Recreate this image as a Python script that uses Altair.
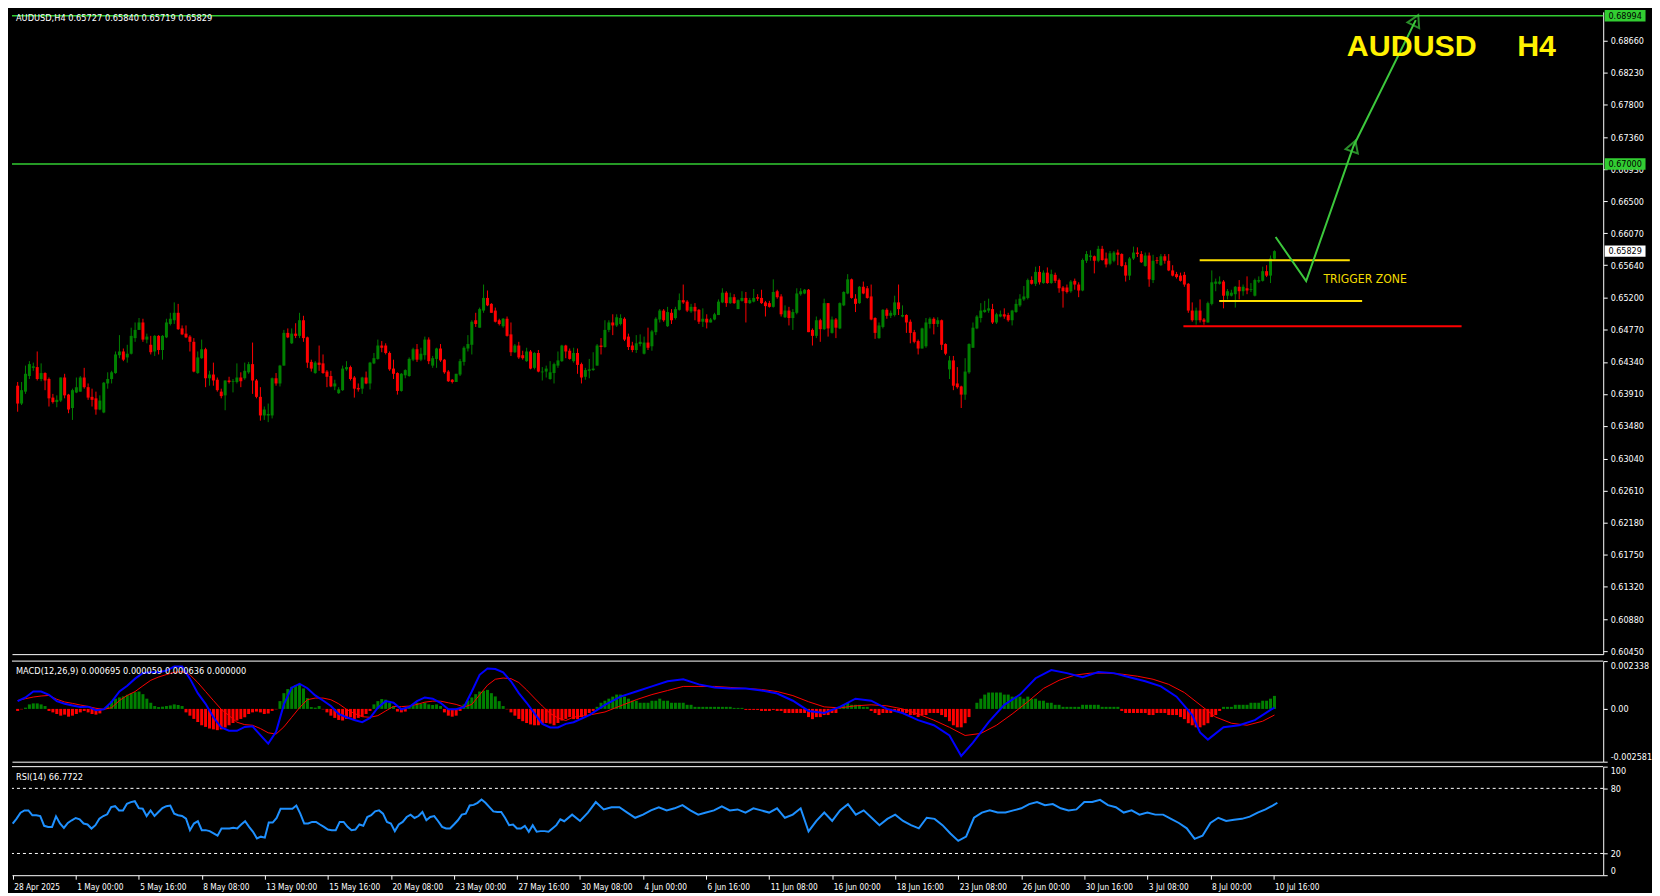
import altair as alt
import pandas as pd

# ---------------- candle data (H4 bars, 28 Apr 08:00 -> 10 Jul 20:00) ----------------
open_ = [
0.6402,0.6378,0.6394,0.6415,0.6426,0.6427,0.6411,0.6419,0.6411,0.6386,
0.6380,0.6382,0.6413,0.6390,0.6372,0.6393,0.6394,0.6413,0.6400,0.6387,
0.6385,0.6370,0.6366,0.6405,0.6411,0.6419,0.6443,0.6448,0.6440,0.6445,
0.6466,0.6477,0.6487,0.6464,0.6457,0.6448,0.6469,0.6450,0.6467,0.6485,
0.6490,0.6500,0.6479,0.6472,0.6468,0.6461,0.6419,0.6439,0.6451,0.6412,
0.6417,0.6410,0.6394,0.6389,0.6409,0.6407,0.6407,0.6413,0.6412,0.6420,
0.6431,0.6409,0.6387,0.6362,0.6362,0.6362,0.6412,0.6405,0.6429,0.6473,
0.6459,0.6472,0.6469,0.6490,0.6467,0.6434,0.6419,0.6433,0.6432,0.6421,
0.6415,0.6401,0.6392,0.6396,0.6424,0.6427,0.6413,0.6399,0.6398,0.6413,
0.6405,0.6432,0.6438,0.6456,0.6456,0.6446,0.6425,0.6419,0.6395,0.6416,
0.6415,0.6437,0.6451,0.6437,0.6443,0.6464,0.6429,0.6438,0.6452,0.6437,
0.6421,0.6410,0.6407,0.6417,0.6434,0.6452,0.6457,0.6490,0.6480,0.6503,
0.6520,0.6512,0.6503,0.6490,0.6482,0.6492,0.6471,0.6447,0.6456,0.6443,
0.6435,0.6448,0.6426,0.6446,0.6420,0.6421,0.6411,0.6419,0.6429,0.6435,
0.6456,0.6449,0.6435,0.6446,0.6431,0.6414,0.6422,0.6423,0.6429,0.6456,
0.6454,0.6477,0.6487,0.6483,0.6485,0.6492,0.6468,0.6456,0.6450,0.6458,
0.6445,0.6460,0.6455,0.6474,0.6491,0.6503,0.6482,0.6500,0.6493,0.6504,
0.6517,0.6515,0.6502,0.6508,0.6504,0.6488,0.6492,0.6487,0.6491,0.6497,
0.6514,0.6527,0.6513,0.6521,0.6505,0.6516,0.6520,0.6513,0.6515,0.6521,
0.6520,0.6514,0.6513,0.6508,0.6529,0.6522,0.6494,0.6503,0.6493,0.6500,
0.6525,0.6526,0.6531,0.6477,0.6469,0.6490,0.6478,0.6513,0.6473,0.6491,
0.6479,0.6510,0.6526,0.6545,0.6519,0.6513,0.6535,0.6533,0.6522,0.6493,
0.6466,0.6481,0.6504,0.6496,0.6497,0.6514,0.6495,0.6497,0.6488,0.6474,
0.6462,0.6452,0.6455,0.6485,0.6492,0.6485,0.6490,0.6458,0.6424,0.6436,
0.6405,0.6401,0.6390,0.6420,0.6453,0.6479,0.6493,0.6501,0.6503,0.6505,
0.6487,0.6495,0.6498,0.6497,0.6490,0.6501,0.6510,0.6518,0.6520,0.6544,
0.6539,0.6555,0.6540,0.6554,0.6540,0.6551,0.6544,0.6534,0.6534,0.6529,
0.6543,0.6538,0.6530,0.6570,0.6575,0.6576,0.6570,0.6586,0.6573,0.6566,
0.6570,0.6581,0.6579,0.6564,0.6550,0.6573,0.6581,0.6579,0.6563,0.6577,
0.6544,0.6571,0.6564,0.6576,0.6570,0.6557,0.6552,0.6550,0.6551,0.6539,
0.6503,0.6490,0.6503,0.6491,0.6487,0.6512,0.6539,0.6539,0.6542,0.6523,
0.6523,0.6525,0.6535,0.6529,0.6533,0.6531,0.6523,0.6542,0.6543,0.6556,
0.6550,0.65727]
high = [
0.6407,0.6407,0.6429,0.6435,0.6433,0.6448,0.6432,0.6420,0.6413,0.6391,
0.6389,0.6413,0.6418,0.6391,0.6398,0.6413,0.6415,0.6426,0.6405,0.6398,
0.6394,0.6389,0.6407,0.6420,0.6422,0.6448,0.6470,0.6452,0.6457,0.6480,
0.6487,0.6493,0.6492,0.6472,0.6469,0.6470,0.6470,0.6470,0.6492,0.6500,
0.6514,0.6512,0.6483,0.6483,0.6470,0.6466,0.6448,0.6464,0.6453,0.6422,
0.6433,0.6413,0.6398,0.6409,0.6414,0.6411,0.6432,0.6420,0.6433,0.6434,
0.6460,0.6411,0.6400,0.6374,0.6378,0.6413,0.6419,0.6430,0.6477,0.6479,
0.6479,0.6486,0.6500,0.6496,0.6468,0.6437,0.6435,0.6456,0.6444,0.6423,
0.6422,0.6410,0.6400,0.6429,0.6435,0.6429,0.6415,0.6405,0.6414,0.6421,
0.6434,0.6446,0.6464,0.6462,0.6459,0.6448,0.6437,0.6420,0.6419,0.6424,
0.6440,0.6453,0.6458,0.6453,0.6468,0.6467,0.6442,0.6453,0.6458,0.6438,
0.6423,0.6411,0.6418,0.6438,0.6455,0.6470,0.6490,0.6500,0.6507,0.6538,
0.6530,0.6513,0.6507,0.6492,0.6493,0.6495,0.6487,0.6458,0.6461,0.6449,
0.6453,0.6450,0.6447,0.6450,0.6427,0.6429,0.6435,0.6433,0.6448,0.6457,
0.6457,0.6452,0.6453,0.6452,0.6433,0.6426,0.6438,0.6447,0.6458,0.6466,
0.6490,0.6490,0.6498,0.6498,0.6498,0.6494,0.6472,0.6461,0.6470,0.6471,
0.6468,0.6480,0.6477,0.6494,0.6505,0.6505,0.6508,0.6505,0.6508,0.6526,
0.6538,0.6517,0.6512,0.6513,0.6505,0.6506,0.6498,0.6493,0.6500,0.6518,
0.6533,0.6529,0.6527,0.6525,0.6518,0.6529,0.6528,0.6520,0.6532,0.6525,
0.6531,0.6516,0.6516,0.6545,0.6531,0.6525,0.6510,0.6508,0.6505,0.6533,
0.6533,0.6532,0.6532,0.6479,0.6495,0.6492,0.6519,0.6513,0.6495,0.6493,
0.6514,0.6529,0.6552,0.6546,0.6525,0.6536,0.6542,0.6536,0.6538,0.6494,
0.6487,0.6505,0.6506,0.6503,0.6523,0.6538,0.6510,0.6498,0.6491,0.6477,
0.6464,0.6480,0.6493,0.6494,0.6494,0.6494,0.6491,0.6459,0.6442,0.6442,
0.6427,0.6402,0.6439,0.6459,0.6487,0.6497,0.6513,0.6516,0.6519,0.6512,
0.6500,0.6503,0.6506,0.6500,0.6504,0.6518,0.6525,0.6536,0.6546,0.6549,
0.6562,0.6563,0.6557,0.6561,0.6558,0.6554,0.6546,0.6536,0.6538,0.6544,
0.6546,0.6541,0.6573,0.6583,0.6584,0.6577,0.6590,0.6590,0.6581,0.6583,
0.6583,0.6585,0.6580,0.6568,0.6575,0.6589,0.6588,0.6583,0.6581,0.6581,
0.6578,0.6575,0.6579,0.6579,0.6579,0.6564,0.6555,0.6554,0.6555,0.6540,
0.6514,0.6507,0.6518,0.6493,0.6515,0.6557,0.6546,0.6549,0.6544,0.6532,
0.6531,0.6536,0.6544,0.6538,0.6549,0.6540,0.6546,0.6549,0.6562,0.6564,
0.6577,0.65840]
low = [
0.6367,0.6376,0.6391,0.6411,0.6422,0.6409,0.6408,0.6396,0.6374,0.6378,
0.6373,0.6380,0.6385,0.6365,0.6356,0.6392,0.6394,0.6398,0.6383,0.6374,
0.6363,0.6369,0.6365,0.6398,0.6405,0.6418,0.6439,0.6435,0.6433,0.6444,
0.6461,0.6477,0.6461,0.6459,0.6444,0.6442,0.6444,0.6437,0.6466,0.6483,
0.6485,0.6477,0.6470,0.6466,0.6448,0.6420,0.6418,0.6438,0.6400,0.6402,
0.6402,0.6394,0.6385,0.6369,0.6405,0.6393,0.6405,0.6400,0.6410,0.6418,
0.6391,0.6385,0.6355,0.6356,0.6353,0.6358,0.6402,0.6401,0.6429,0.6466,
0.6458,0.6466,0.6466,0.6461,0.6426,0.6421,0.6418,0.6422,0.6418,0.6400,
0.6400,0.6396,0.6391,0.6395,0.6422,0.6409,0.6386,0.6394,0.6391,0.6404,
0.6397,0.6431,0.6437,0.6447,0.6444,0.6422,0.6411,0.6390,0.6394,0.6412,
0.6414,0.6435,0.6434,0.6435,0.6437,0.6431,0.6426,0.6426,0.6434,0.6418,
0.6407,0.6405,0.6407,0.6415,0.6429,0.6448,0.6444,0.6481,0.6480,0.6500,
0.6509,0.6500,0.6487,0.6483,0.6480,0.6468,0.6442,0.6446,0.6438,0.6437,
0.6434,0.6424,0.6424,0.6420,0.6409,0.6413,0.6410,0.6405,0.6426,0.6434,
0.6439,0.6437,0.6433,0.6418,0.6405,0.6410,0.6412,0.6422,0.6429,0.6444,
0.6453,0.6474,0.6470,0.6481,0.6483,0.6462,0.6450,0.6447,0.6446,0.6455,
0.6444,0.6450,0.6449,0.6470,0.6487,0.6488,0.6481,0.6485,0.6491,0.6503,
0.6512,0.6501,0.6500,0.6490,0.6485,0.6481,0.6479,0.6487,0.6490,0.6497,
0.6513,0.6508,0.6512,0.6512,0.6505,0.6515,0.6487,0.6512,0.6514,0.6516,
0.6512,0.6495,0.6507,0.6507,0.6519,0.6495,0.6493,0.6483,0.6477,0.6498,
0.6523,0.6525,0.6474,0.6456,0.6466,0.6461,0.6477,0.6468,0.6472,0.6466,
0.6478,0.6509,0.6525,0.6519,0.6501,0.6512,0.6525,0.6519,0.6490,0.6465,
0.6465,0.6479,0.6492,0.6493,0.6495,0.6497,0.6494,0.6473,0.6459,0.6459,
0.6444,0.6452,0.6453,0.6479,0.6471,0.6481,0.6450,0.6443,0.6411,0.6396,
0.6398,0.6372,0.6383,0.6418,0.6453,0.6478,0.6487,0.6500,0.6500,0.6485,
0.6485,0.6494,0.6492,0.6488,0.6483,0.6500,0.6508,0.6516,0.6518,0.6538,
0.6536,0.6538,0.6539,0.6539,0.6539,0.6540,0.6527,0.6507,0.6526,0.6527,
0.6531,0.6521,0.6529,0.6567,0.6570,0.6553,0.6568,0.6570,0.6561,0.6564,
0.6568,0.6564,0.6562,0.6542,0.6544,0.6571,0.6575,0.6567,0.6562,0.6535,
0.6540,0.6566,0.6563,0.6566,0.6556,0.6549,0.6546,0.6542,0.6535,0.6500,
0.6488,0.6484,0.6487,0.6484,0.6487,0.6510,0.6529,0.6538,0.6506,0.6518,
0.6522,0.6507,0.6518,0.6523,0.6525,0.6528,0.6522,0.6540,0.6542,0.6548,
0.6540,0.65719]
close = [
0.6378,0.6396,0.6418,0.6431,0.6428,0.6411,0.6419,0.6409,0.6385,0.6380,
0.6383,0.6413,0.6389,0.6370,0.6396,0.6400,0.6413,0.6400,0.6386,0.6383,
0.6370,0.6382,0.6406,0.6411,0.6420,0.6444,0.6448,0.6437,0.6445,0.6469,
0.6477,0.6487,0.6464,0.6468,0.6447,0.6469,0.6450,0.6469,0.6487,0.6492,
0.6500,0.6478,0.6471,0.6467,0.6461,0.6421,0.6440,0.6451,0.6412,0.6417,
0.6409,0.6396,0.6388,0.6409,0.6407,0.6408,0.6413,0.6408,0.6422,0.6431,
0.6409,0.6387,0.6362,0.6370,0.6364,0.6412,0.6405,0.6429,0.6473,0.6467,
0.6472,0.6469,0.6490,0.6466,0.6433,0.6425,0.6433,0.6430,0.6419,0.6414,
0.6401,0.6405,0.6397,0.6425,0.6427,0.6411,0.6398,0.6397,0.6413,0.6405,
0.6433,0.6439,0.6456,0.6453,0.6446,0.6424,0.6418,0.6395,0.6418,0.6423,
0.6438,0.6451,0.6437,0.6445,0.6464,0.6435,0.6439,0.6452,0.6436,0.6420,
0.6408,0.6407,0.6418,0.6435,0.6453,0.6458,0.6488,0.6485,0.6505,0.6520,
0.6510,0.6500,0.6488,0.6485,0.6492,0.6469,0.6447,0.6456,0.6440,0.6439,
0.6448,0.6425,0.6446,0.6421,0.6421,0.6425,0.6420,0.6431,0.6436,0.6456,
0.6448,0.6438,0.6446,0.6430,0.6413,0.6423,0.6424,0.6425,0.6456,0.6454,
0.6477,0.6487,0.6483,0.6494,0.6493,0.6464,0.6454,0.6450,0.6459,0.6461,
0.6460,0.6453,0.6475,0.6492,0.6503,0.6490,0.6501,0.6490,0.6505,0.6517,
0.6514,0.6503,0.6508,0.6502,0.6488,0.6492,0.6487,0.6491,0.6498,0.6515,
0.6527,0.6513,0.6521,0.6513,0.6517,0.6520,0.6513,0.6517,0.6520,0.6519,
0.6513,0.6509,0.6508,0.6528,0.6521,0.6498,0.6503,0.6493,0.6501,0.6526,
0.6529,0.6531,0.6474,0.6469,0.6490,0.6478,0.6513,0.6479,0.6491,0.6480,
0.6513,0.6528,0.6545,0.6520,0.6512,0.6535,0.6526,0.6520,0.6491,0.6473,
0.6483,0.6504,0.6496,0.6500,0.6514,0.6505,0.6497,0.6487,0.6473,0.6461,
0.6452,0.6479,0.6487,0.6492,0.6485,0.6490,0.6457,0.6445,0.6436,0.6402,
0.6400,0.6390,0.6421,0.6458,0.6480,0.6495,0.6503,0.6504,0.6506,0.6487,
0.6498,0.6498,0.6495,0.6490,0.6503,0.6512,0.6519,0.6522,0.6544,0.6539,
0.6555,0.6541,0.6554,0.6540,0.6552,0.6543,0.6533,0.6529,0.6528,0.6542,
0.6538,0.6530,0.6571,0.6579,0.6577,0.6570,0.6586,0.6571,0.6565,0.6580,
0.6581,0.6578,0.6563,0.6550,0.6573,0.6581,0.6579,0.6568,0.6577,0.6545,
0.6570,0.6570,0.6576,0.6570,0.6557,0.6550,0.6548,0.6543,0.6538,0.6503,
0.6490,0.6503,0.6490,0.6488,0.6513,0.6541,0.6542,0.6542,0.6523,0.6529,
0.6527,0.6535,0.6529,0.6535,0.6530,0.6532,0.6544,0.6544,0.6556,0.6550,
0.6573,0.65829]

# ---------------- MACD(12,26,9) ----------------
hist = [
-0.0001,-0.00002,0.00006,0.00022,0.00027,0.00027,0.00022,0.00014,-0.0001,-0.00017,
-0.00025,-0.00033,-0.00028,-0.00038,-0.00033,-0.00025,-0.00017,-0.0001,-0.00017,-0.00025,
-0.00028,-0.00022,-0.00002,0.00014,0.00038,0.0005,0.00056,0.00061,0.00069,0.00077,
0.00082,0.00085,0.00072,0.0005,0.0003,0.00014,0.00009,0.00011,0.00014,0.00017,
0.00022,0.00019,0.00014,-0.00017,-0.00033,-0.00049,-0.00064,-0.0008,-0.00088,-0.00096,
-0.001,-0.00104,-0.001,-0.00091,-0.0008,-0.00069,-0.00057,-0.00049,-0.00041,-0.00025,
-0.00017,-0.00013,-0.00017,-0.00025,-0.00022,-0.0001,-0.00002,0.00038,0.00077,0.00097,
0.00108,0.00116,0.00119,0.001,0.00053,0.00009,0.00006,0.00014,-0.00002,-0.00017,
-0.00033,-0.00044,-0.00054,-0.00057,-0.00049,-0.00041,-0.00049,-0.00044,-0.00038,-0.00025,
-0.0001,0.00022,0.00038,0.00048,0.00045,0.0003,0.00014,-0.00013,-0.00017,-0.00013,
0.00014,0.00022,0.0003,0.00025,0.0003,0.00022,0.00019,0.00022,0.00014,-0.00017,
-0.00033,-0.00038,-0.00033,-0.0001,0.00022,0.00041,0.00056,0.00072,0.00085,0.00089,
0.00093,0.00077,0.00061,0.00038,0.00014,-0.00002,-0.00017,-0.00033,-0.00049,-0.0006,
-0.00069,-0.00076,-0.0008,-0.0008,-0.00072,-0.00069,-0.00072,-0.0008,-0.00069,-0.00057,
-0.00049,
-0.0004,-0.0005,-0.0005,-0.0004,-0.0003,-0.0002,-0.0001,0.0001,0.0003,0.0004,
0.0005,0.0006,0.0007,0.0007,0.0006,0.0005,0.0004,0.0004,0.0003,0.0003,
0.0003,0.0004,0.0004,0.0005,0.0004,0.0004,0.0003,0.0003,0.0003,0.0003,
0.0002,0.0002,0.0001,0.0001,0.0001,0.0001,0.0001,0.0001,0.0001,0.0001,
0.0001,0.0001,0.00005,0.00005,0.00005,-0.00005,-0.00005,-0.00005,-0.00005,-0.0001,
-0.0001,-0.0001,-0.00005,-0.0001,-0.0001,-0.0002,-0.0002,-0.0002,-0.0002,-0.0002,
-0.0002,-0.0004,-0.0005,-0.0004,-0.0004,-0.0003,-0.0003,-0.0002,-0.0002,0.0001,
0.0002,0.0003,0.0002,0.0002,0.0002,0.0001,0.0001,-0.0001,-0.0002,-0.0003,
-0.0002,-0.0002,-0.0002,-0.0001,-0.0001,-0.0002,-0.0002,-0.0003,-0.0003,-0.0004,
-0.0003,-0.0003,-0.0002,-0.0002,-0.0002,-0.0003,-0.0004,-0.0006,-0.0008,-0.0009,
-0.0009,-0.0007,-0.0004,0.0,0.0003,0.0005,0.0007,0.0008,0.0008,0.0008,
0.0008,0.0007,0.0007,0.0006,0.0006,0.0006,0.0005,0.0006,0.0005,0.0005,
0.0004,0.0004,0.0003,0.0003,0.0002,0.0002,0.0001,0.0001,0.0001,0.0001,
0.0001,0.0002,0.0002,0.0002,0.0002,0.0002,0.0001,0.0001,0.0001,0.0001,
0.0001,-0.0001,-0.0002,-0.0002,-0.0002,-0.0002,-0.0002,-0.0002,-0.0003,-0.0003,
-0.0002,-0.0002,-0.0002,-0.0003,-0.0003,-0.0003,-0.0004,-0.0005,-0.0007,-0.0008,
-0.0009,-0.0009,-0.0008,-0.0007,-0.0004,-0.0003,-0.0001,0.0001,0.0001,0.0001,
0.0002,0.0002,0.0002,0.0002,0.0003,0.0003,0.0003,0.0004,0.0004,0.0005,
0.000636]

macd_idx = list(range(0, 141, 2)) + [
142,146,150,154,158,162,166,170,174,178,182,186,190,194,198,202,206,210,214,218,
222,226,230,234,238,241,244,248,252,256,260,264,268,272,276,280,284,288,292,296,
300,302,304,308,312,316,320,321]
macd_val = [
0.00038,0.00056,0.00085,0.00085,0.00069,0.00038,0.00025,0.00017,0.00009,0.00011,
-0.00006,-0.00002,0.00034,0.00085,0.00113,0.00148,0.00176,0.00179,0.00179,0.00187,
0.00207,0.00207,0.00148,0.00077,0.00025,-0.00041,-0.00091,-0.00107,-0.00107,-0.00088,
-0.00085,-0.00128,-0.0017,-0.00112,0.00022,0.00104,0.00123,0.00101,0.00066,0.00041,
0.00014,-0.00025,-0.00041,-0.00054,-0.00065,-0.00044,0.00006,0.00038,0.0003,-0.00002,
0.00009,0.00038,0.00056,0.0005,0.0003,-0.00002,-0.00002,0.00009,0.00085,0.00167,
0.00198,0.00195,0.00179,0.00135,0.00077,0.0003,-0.00022,-0.00073,-0.00091,-0.00091,
-0.00073,
-0.00065,-0.0003,0.0002,0.0006,0.00085,0.0011,0.00135,0.00145,0.0012,0.00105,
0.001,0.001,0.0009,0.00075,0.0004,-0.0001,-0.0002,0.0001,0.0005,0.0004,
0.0,-0.0002,-0.00055,-0.0008,-0.0013,-0.0023,-0.00165,-0.00065,0.0002,0.0007,
0.0015,0.0019,0.00175,0.00155,0.0018,0.00175,0.00155,0.00135,0.0011,0.0006,
-0.0003,-0.00115,-0.0015,-0.0009,-0.0008,-0.00055,-0.00005,0.000059]

sig_idx = list(range(0, 141, 2)) + [
142,146,150,154,158,162,166,170,174,178,182,186,190,194,198,202,206,210,214,218,
222,226,230,234,238,242,246,250,254,258,262,266,270,274,278,282,286,290,294,298,
302,306,310,314,318,321]
sig_val = [
0.00041,0.0005,0.00058,0.00063,0.00066,0.00047,0.00034,0.00027,0.00019,0.00012,
0.00003,-0.00002,0.00006,0.00041,0.00066,0.00085,0.00113,0.0014,0.00156,0.00168,
0.00179,0.00182,0.00167,0.00129,0.00085,0.00041,-0.00002,-0.00033,-0.00065,-0.00077,
-0.0008,-0.00096,-0.00117,-0.00123,-0.00088,-0.00041,0.00006,0.00045,0.00053,0.00053,
0.00045,0.00025,-0.00002,-0.00022,-0.00038,-0.00041,-0.00033,-0.0001,0.00012,0.00011,
0.00014,0.00022,0.00033,0.00038,0.00038,0.0003,0.00022,0.00009,0.00022,0.00069,
0.00116,0.00145,0.00151,0.00148,0.00129,0.00093,0.00053,0.00014,-0.00022,-0.00044,
-0.00057,
-0.0004,-0.0003,-0.00015,0.00015,0.00045,0.0007,0.0009,0.0011,0.0011,0.0011,
0.00105,0.001,0.00095,0.00085,0.00065,0.00035,0.0001,0.00005,0.00015,0.0002,
0.00015,0.0,-0.00025,-0.00055,-0.0009,-0.0013,-0.0012,-0.0008,-0.00025,0.00035,
0.001,0.0014,0.00165,0.00175,0.00175,0.0017,0.0016,0.00145,0.0012,0.0008,
0.0002,-0.0004,-0.0007,-0.0008,-0.0006,-0.0003]

# ---------------- RSI(14) ----------------
rsi_idx = list(range(0, 141)) + list(range(142, 321, 2)) + [321]
rsi_val = [
47.6,52.1,57.6,59.7,59.7,55.2,55.2,54.5,45.5,44.5,
44.5,54.2,47.6,43.6,48.2,50.6,52.7,51.5,47.6,46.7,
43.0,46.1,52.1,54.5,56.1,62.7,63.6,59.7,59.7,65.8,
67.3,68.2,61.8,61.2,54.5,59.7,54.5,58.2,61.8,63.6,
64.2,56.7,55.2,54.5,52.1,41.5,47.6,49.7,41.5,41.5,
40.6,38.5,36.4,43.0,43.0,43.0,43.6,43.0,46.7,49.7,
44.5,40.0,33.9,35.5,34.6,48.5,48.5,52.7,61.2,61.2,
61.2,61.2,64.2,56.7,47.6,47.6,49.1,49.1,46.7,44.5,
42.1,41.5,41.5,49.1,49.1,44.5,41.5,42.1,46.7,45.5,
53.6,55.2,58.8,59.7,56.7,49.1,47.6,40.6,46.7,49.1,
53.6,55.8,52.7,54.5,58.2,50.6,53.6,54.5,49.7,44.5,
43.0,43.0,46.7,50.6,55.8,56.7,64.2,64.8,66.7,69.7,
66.7,62.7,58.8,58.2,58.2,52.7,46.1,46.7,43.0,43.0,
45.5,40.0,46.1,40.0,40.6,40.6,40.0,43.0,46.1,51.5,
49.7,
55.8,50.0,57.7,67.4,60.6,62.6,62.6,57.7,52.9,55.8,
59.7,62.6,59.7,61.6,64.5,59.7,55.8,57.7,59.7,63.5,
59.7,60.6,57.7,61.6,59.7,57.7,61.6,52.9,55.8,61.6,
40.3,50.0,57.7,50.0,59.7,65.5,55.8,59.7,52.9,46.1,
51.9,55.8,50.0,46.1,43.2,52.9,51.9,46.1,38.4,31.6,
35.5,52.9,57.7,59.7,57.7,57.7,59.7,61.6,65.5,67.4,
64.5,65.5,61.6,59.7,60.6,67.4,67.4,69.4,64.5,62.6,
57.7,59.7,55.8,57.7,55.8,55.8,51.9,48.1,43.2,33.5,
36.4,48.1,52.9,50.0,51.0,51.9,53.9,57.7,60.6,64.5,
66.77]

# ---------------- axis labels / annotations ----------------
date_labels = ['28 Apr 2025', '1 May 00:00', '5 May 16:00', '8 May 08:00', '13 May 00:00',
               '15 May 16:00', '20 May 08:00', '23 May 00:00', '27 May 16:00', '30 May 08:00',
               '4 Jun 00:00', '6 Jun 16:00', '11 Jun 08:00', '16 Jun 00:00', '18 Jun 16:00',
               '23 Jun 08:00', '26 Jun 00:00', '30 Jun 16:00', '3 Jul 08:00', '8 Jul 00:00',
               '10 Jul 16:00']
price_ticks = [0.6866, 0.6823, 0.6780, 0.6736, 0.6693, 0.6650, 0.6607, 0.6564, 0.6520, 0.6477,
               0.6434, 0.6391, 0.6348, 0.6304, 0.6261, 0.6218, 0.6175, 0.6132, 0.6088, 0.6045]
level_prices = [0.68994, 0.67000]
box_prices = [0.68994, 0.67000, 0.65829]
box_texts = ['0.68994', '0.67000', '0.65829']
box_fills = ['#32CD32', '#32CD32', '#FFFFFF']
zone_start = [301.9, 306.9, 297.75]
zone_end = [340.25, 343.4, 368.8]
zone_price = [0.65705, 0.65159, 0.64818]
zone_color = ['#FFE000', '#FFE000', '#FF0000']
path_idx = [321.3, 329.1, 341.2, 357.1]
path_price = [0.66019, 0.65426, 0.67243, 0.68935]
head_idx = [341.2, 357.1]
head_price = [0.67243, 0.68935]
head_angle = [19, 26]

W = 1598
H_MAIN, H_MACD, H_RSI = 645, 101, 109
FONT = "DejaVu Sans Condensed, DejaVu Sans, sans-serif"
GREEN = "#008000"
RED = "#FF0000"
WHITE = "#FFFFFF"

xscale = alt.Scale(domain=[-0.175, 403.7], nice=False, zero=False)
pscale = alt.Scale(domain=[0.60411, 0.69046], nice=False, zero=False)
mscale = alt.Scale(domain=[-0.002581, 0.002338], nice=False, zero=False)
rscale = alt.Scale(domain=[0, 100], nice=False, zero=False)

ax_x_plain = alt.Axis(title=None, labels=False, ticks=False, grid=False, domain=True,
                      domainColor=WHITE, domainWidth=1)
ax_kw = dict(title=None, orient='right', grid=False, domainColor=WHITE, domainWidth=1,
             tickColor=WHITE, tickSize=4, labelColor=WHITE, labelFont=FONT, labelFontSize=9,
             labelPadding=3)
ax_price = alt.Axis(values=price_ticks, format='.5f', labelOverlap=False, **ax_kw)
ax_macd = alt.Axis(values=[0.002338, 0, -0.002581], labelFlush=True, labelOverlap=False,
                   labelExpr="datum.value > 0.001 ? '0.002338' : (datum.value < -0.001 ? '-0.002581' : '0.00')",
                   **ax_kw)
ax_rsi = alt.Axis(values=[0, 20, 80, 100], labelFlush=True, labelOverlap=False, **ax_kw)
label_expr = "[" + ",".join("'%s'" % s for s in date_labels) + "][round(datum.value / 16)]"
ax_x_dates = alt.Axis(title=None, grid=False, values=list(range(0, 321, 16)), labelExpr=label_expr,
                      labelAlign='left', labelBaseline='top', labelOffset=1, labelPadding=3,
                      labelOverlap=False, labelFlush=False, labelBound=False,
                      domainColor=WHITE, tickColor=WHITE, tickSize=4, labelColor=WHITE,
                      labelFont=FONT, labelFontSize=8.3)

# ---------------- main pane ----------------
cdf = pd.DataFrame({'i': list(range(len(close))), 'open': open_, 'high': high,
                    'low': low, 'close': close})
up = alt.condition("datum.close >= datum.open", alt.value(GREEN), alt.value(RED))
X = alt.X('i:Q', scale=xscale, axis=ax_x_plain)

wicks = alt.Chart(cdf).mark_rule(strokeWidth=1).encode(
    x=X, y=alt.Y('low:Q', scale=pscale, axis=ax_price), y2='high:Q', color=up)
bodies = alt.Chart(cdf).mark_bar(size=3).encode(
    x=X, y=alt.Y('open:Q', scale=pscale, axis=ax_price), y2='close:Q', color=up)

levels = alt.Chart(pd.DataFrame({'p': level_prices})).mark_rule(
    color='#32CD32', strokeWidth=1.5).encode(y=alt.Y('p:Q', scale=pscale, axis=ax_price))

zdf = pd.DataFrame({'i': zone_start, 'i2': zone_end, 'p': zone_price, 'c': zone_color})
zones = alt.Chart(zdf).mark_rule(strokeWidth=2).encode(
    x=X, x2='i2:Q', y=alt.Y('p:Q', scale=pscale, axis=ax_price),
    color=alt.Color('c:N', scale=None))

pdf = pd.DataFrame({'i': path_idx, 'p': path_price, 'o': list(range(len(path_idx)))})
path = alt.Chart(pdf).mark_line(color='#3CC83C', strokeWidth=2).encode(
    x=X, y=alt.Y('p:Q', scale=pscale, axis=ax_price), order='o:Q')
hdf = pd.DataFrame({'i': head_idx, 'p': head_price, 'a': head_angle})
heads = alt.Chart(hdf).mark_point(shape='triangle-up', size=170, filled=False,
                                  color='#3CC83C', strokeWidth=2).encode(
    x=X, y=alt.Y('p:Q', scale=pscale, axis=ax_price),
    angle=alt.Angle('a:Q', scale=None))

tdf = pd.DataFrame({'i': [333.5], 'p': [0.6546], 't': ['TRIGGER ZONE']})
trig = alt.Chart(tdf).mark_text(align='left', baseline='middle', color='#F2DC00',
                                font=FONT, fontSize=12.2).encode(
    x=X, y=alt.Y('p:Q', scale=pscale, axis=ax_price), text='t:N')
sdf = pd.DataFrame({'i': [339.5, 383.0], 'p': [0.68575, 0.68575], 't': ['AUDUSD', 'H4']})
sym = alt.Chart(sdf).mark_text(align='left', baseline='middle', color='#FFF200',
                               font='Liberation Sans, Arial, sans-serif', fontWeight='bold',
                               fontSize=30.5).encode(
    x=X, y=alt.Y('p:Q', scale=pscale, axis=ax_price), text='t:N')

bdf = pd.DataFrame({'p': box_prices, 't': box_texts, 'f': box_fills})
boxes = alt.Chart(bdf).mark_point(shape='M-1,-0.28L1,-0.28L1,0.28L-1,0.28Z', size=1681,
                                  filled=True, opacity=1, clip=False).encode(
    x=alt.value(W + 22), y=alt.Y('p:Q', scale=pscale, axis=ax_price),
    color=alt.Color('f:N', scale=None))
box_txt = alt.Chart(bdf).mark_text(align='center', baseline='middle', color='black',
                                   font=FONT, fontSize=9, clip=False).encode(
    x=alt.value(W + 22), y=alt.Y('p:Q', scale=pscale, axis=ax_price), text='t:N')

head_main = alt.Chart(pd.DataFrame({'t': ['AUDUSD,H4  0.65727 0.65840 0.65719 0.65829']})).mark_text(
    align='left', baseline='middle', color=WHITE, font=FONT, fontSize=9.2).encode(
    x=alt.value(4), y=alt.value(6), text='t:N')

main = alt.layer(wicks, bodies, levels, zones, path, heads, trig, sym, boxes, box_txt,
                 head_main).properties(width=W, height=H_MAIN)

# ---------------- MACD pane ----------------
hdf2 = pd.DataFrame({'i': list(range(len(hist))), 'h': hist})
hbars = alt.Chart(hdf2).mark_bar(size=3).encode(
    x=X, y=alt.Y('h:Q', scale=mscale, axis=ax_macd),
    color=alt.condition("datum.h >= 0", alt.value(GREEN), alt.value(RED)))
mline = alt.Chart(pd.DataFrame({'i': macd_idx, 'v': macd_val})).mark_line(
    color='#0000FF', strokeWidth=2).encode(x=X, y=alt.Y('v:Q', scale=mscale, axis=ax_macd))
sline = alt.Chart(pd.DataFrame({'i': sig_idx, 'v': sig_val})).mark_line(
    color=RED, strokeWidth=1).encode(x=X, y=alt.Y('v:Q', scale=mscale, axis=ax_macd))
top_rule = alt.Chart(pd.DataFrame({'a': [0]})).mark_rule(color=WHITE, strokeWidth=1).encode(
    y=alt.value(0))
head_macd = alt.Chart(pd.DataFrame({'t': ['MACD(12,26,9) 0.000695 0.000059 0.000636 0.000000']})).mark_text(
    align='left', baseline='middle', color=WHITE, font=FONT, fontSize=9.2).encode(
    x=alt.value(4), y=alt.value(10), text='t:N')
macd = alt.layer(hbars, sline, mline, top_rule, head_macd).properties(width=W, height=H_MACD)

# ---------------- RSI pane ----------------
XR = alt.X('i:Q', scale=xscale, axis=ax_x_dates)
rlev = alt.Chart(pd.DataFrame({'v': [80, 20]})).mark_rule(
    color=WHITE, strokeWidth=1, strokeDash=[3, 3]).encode(y=alt.Y('v:Q', scale=rscale, axis=ax_rsi))
rline = alt.Chart(pd.DataFrame({'i': rsi_idx, 'v': rsi_val})).mark_line(
    color='#1E90FF', strokeWidth=2).encode(x=XR, y=alt.Y('v:Q', scale=rscale, axis=ax_rsi))
head_rsi = alt.Chart(pd.DataFrame({'t': ['RSI(14) 66.7722']})).mark_text(
    align='left', baseline='middle', color=WHITE, font=FONT, fontSize=9.2).encode(
    x=alt.value(4), y=alt.value(10), text='t:N')
rsi = alt.layer(rline, rlev, top_rule, head_rsi).properties(width=W, height=H_RSI)

chart = alt.vconcat(main, macd, rsi, spacing=3).resolve_scale(
    x='independent', y='independent').configure(
    background='black', padding=0).configure_view(strokeWidth=0)

chart.save("out.html", embed_options={"renderer": "svg", "actions": False})
